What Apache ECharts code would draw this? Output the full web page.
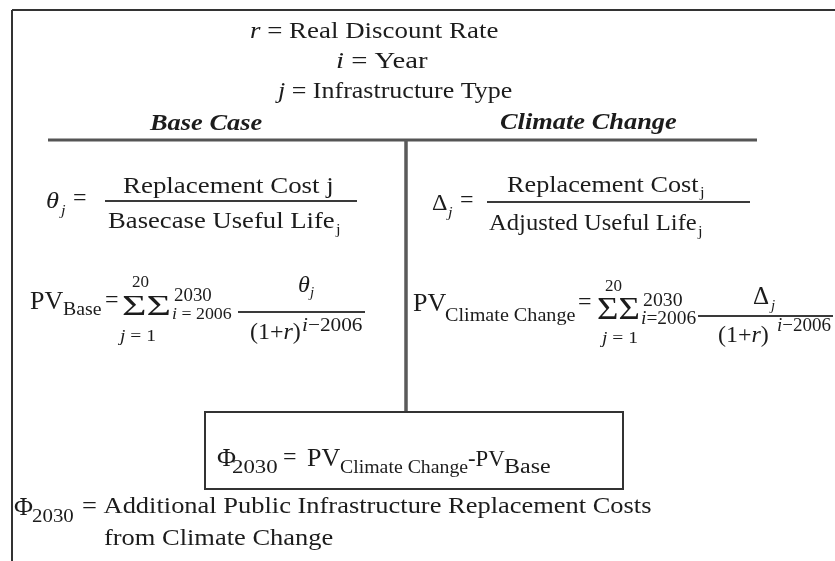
<!DOCTYPE html>
<html>
<head>
<meta charset="utf-8">
<script src="https://cdn.jsdelivr.net/npm/echarts@6/dist/echarts.min.js"></script>
<style>
  * { margin: 0; padding: 0; }
  #chart-container { width: 835px; height: 561px; background: #fff; }
</style>
</head>
<body>
<div id="chart-container"></div>
<script>
  // text content of the diagram
  var definitions = ['{v|r} = Real Discount Rate', '{v|i} = Year', '{v|j} = Infrastructure Type']
  var caseTitles = ['Base Case', 'Climate Change']
  var numerators = ['Replacement Cost j', 'Replacement Cost']
  var denominators = ['Basecase Useful Life', 'Adjusted Useful Life']
  var pvSubs = ['Base', 'Climate Change']
  var sumLimits = ['20', '{v|j} = 1', '2030', '{v|i} = 2006', '{v|i}=2006']
  var discount = '(1+{v|r})'
  var exponent = '{v|i}\u22122006'
  var resultLabel = ['=', 'PV', 'Climate Change', '-PV', 'Base']
  var footnote = ['= Additional Public Infrastructure Replacement Costs', 'from Climate Change']

  var FONT = '"Liberation Serif", "Times New Roman", serif'
  var INK = '#1c1c1c'

  function txt(x, y, s, size, opt) {
    opt = opt || {}
    return {
      type: 'text',
      x: x,
      y: y - 0.3 * size,
      scaleX: opt.sx || 1.1,
      silent: true,
      style: {
        text: s,
        fontFamily: FONT,
        fontSize: size,
        fontStyle: opt.italic ? 'italic' : 'normal',
        fontWeight: opt.bold ? 'bold' : 'normal',
        fill: INK,
        align: opt.align || 'left',
        verticalAlign: 'middle',
        rich: {
          v: { fontFamily: FONT, fontSize: size, fontStyle: 'italic', fill: INK }
        }
      }
    }
  }

  function line(x1, y1, x2, y2, w, c) {
    return {
      type: 'line',
      silent: true,
      shape: { x1: x1, y1: y1, x2: x2, y2: y2 },
      style: { stroke: c || '#4a4a4a', lineWidth: w || 2 }
    }
  }

  var els = []

  // frame and dividers
  els.push(line(12, 10, 835, 10, 2, '#333'))
  els.push(line(12, 10, 12, 561, 2, '#333'))
  els.push(line(48, 140, 757, 140, 3, '#555'))
  els.push(line(406, 140, 406, 412, 3.5, '#5a5a5a'))
  els.push({
    type: 'rect',
    silent: true,
    shape: { x: 205, y: 412, width: 418, height: 77 },
    style: { fill: '#fff', stroke: '#333', lineWidth: 2 }
  })

  // definitions
  els.push(txt(250, 39, definitions[0], 23, { sx: 1.17 }))
  els.push(txt(336, 69, definitions[1], 23, { sx: 1.25 }))
  els.push(txt(278, 99, definitions[2], 23, { sx: 1.13 }))
  els.push(txt(150, 131, caseTitles[0], 24, { bold: true, italic: true }))
  els.push(txt(500, 130, caseTitles[1], 24, { bold: true, italic: true }))

  // base case: theta
  els.push(txt(46, 209, '\u03b8', 24, { italic: true }))
  els.push(txt(61, 216, 'j', 15, { italic: true }))
  els.push(txt(73, 206, '=', 24, { sx: 1 }))
  els.push(txt(123, 194, numerators[0], 23, { sx: 1.17 }))
  els.push(line(105, 201, 357, 201, 2, '#3a3a3a'))
  els.push(txt(108, 229, denominators[0], 23, { sx: 1.16 }))
  els.push(txt(336, 235, 'j', 15))

  // base case: PV
  els.push(txt(30, 310, 'PV', 26, { sx: 1 }))
  els.push(txt(63, 316, pvSubs[0], 18))
  els.push(txt(105, 308, '=', 24, { sx: 1 }))
  els.push(txt(122, 316, '\u03a3\u03a3', 30, { sx: 1.4 }))
  els.push(txt(132, 288, sumLimits[0], 17, { sx: 1 }))
  els.push(txt(120, 342, sumLimits[1], 17, { sx: 1.15 }))
  els.push(txt(174, 302, sumLimits[2], 18, { sx: 1.05 }))
  els.push(txt(172, 320, sumLimits[3], 17, { sx: 1.05 }))
  els.push(line(238, 312, 365, 312, 2, '#3a3a3a'))
  els.push(txt(298, 293, '\u03b8', 24, { italic: true, sx: 1 }))
  els.push(txt(310, 298, 'j', 15, { italic: true, sx: 1 }))
  els.push(txt(250, 340, discount, 24, { sx: 1 }))
  els.push(txt(302, 332, exponent, 19, { sx: 1.12 }))

  // climate change: delta
  els.push(txt(432, 211, '\u0394', 24, { sx: 1 }))
  els.push(txt(448, 218, 'j', 15, { italic: true }))
  els.push(txt(460, 208, '=', 24, { sx: 1 }))
  els.push(txt(507, 193, numerators[1], 23, { sx: 1.14 }))
  els.push(txt(700, 198, 'j', 15))
  els.push(line(487, 202, 750, 202, 2, '#3a3a3a'))
  els.push(txt(489, 231, denominators[1], 23, { sx: 1.07 }))
  els.push(txt(698, 237, 'j', 15))

  // climate change: PV
  els.push(txt(413, 312, 'PV', 26, { sx: 1 }))
  els.push(txt(445, 322, pvSubs[1], 18, { sx: 1.12 }))
  els.push(txt(578, 310, '=', 24, { sx: 1 }))
  els.push(txt(597, 320, '\u03a3\u03a3', 32, { sx: 1.15 }))
  els.push(txt(605, 292, sumLimits[0], 17, { sx: 1 }))
  els.push(txt(602, 344, sumLimits[1], 17, { sx: 1.15 }))
  els.push(txt(643, 307, sumLimits[2], 18, { sx: 1.1 }))
  els.push(txt(641, 325, sumLimits[4], 18, { sx: 1.08 }))
  els.push(line(698, 316, 833, 316, 2, '#3a3a3a'))
  els.push(txt(753, 305, '\u0394', 25, { sx: 1 }))
  els.push(txt(771, 311, 'j', 15, { italic: true, sx: 1 }))
  els.push(txt(718, 343, discount, 24, { sx: 1 }))
  els.push(txt(777, 332, exponent, 19, { sx: 1 }))

  // result box
  els.push(txt(217, 467, '\u03a6', 26, { sx: 1 }))
  els.push(txt(232, 474, '2030', 19, { sx: 1.2 }))
  els.push(txt(283, 465, resultLabel[0], 24, { sx: 1 }))
  els.push(txt(307, 467, resultLabel[1], 26, { sx: 1 }))
  els.push(txt(340, 474, resultLabel[2], 18, { sx: 1.1 }))
  els.push(txt(468, 467, resultLabel[3], 24, { sx: 0.95 }))
  els.push(txt(504, 474, resultLabel[4], 20, { sx: 1.2 }))

  // footnote
  els.push(txt(14, 516, '\u03a6', 26, { sx: 1 }))
  els.push(txt(32, 523, '2030', 19, { sx: 1.1 }))
  els.push(txt(82, 514, footnote[0], 23, { sx: 1.15 }))
  els.push(txt(104, 546, footnote[1], 23, { sx: 1.15 }))

  var myChart = echarts.init(document.getElementById('chart-container'), null, { renderer: 'canvas' })
  myChart.setOption({
    backgroundColor: '#fff',
    animation: false,
    graphic: { elements: els }
  })
</script>
</body>
</html>
